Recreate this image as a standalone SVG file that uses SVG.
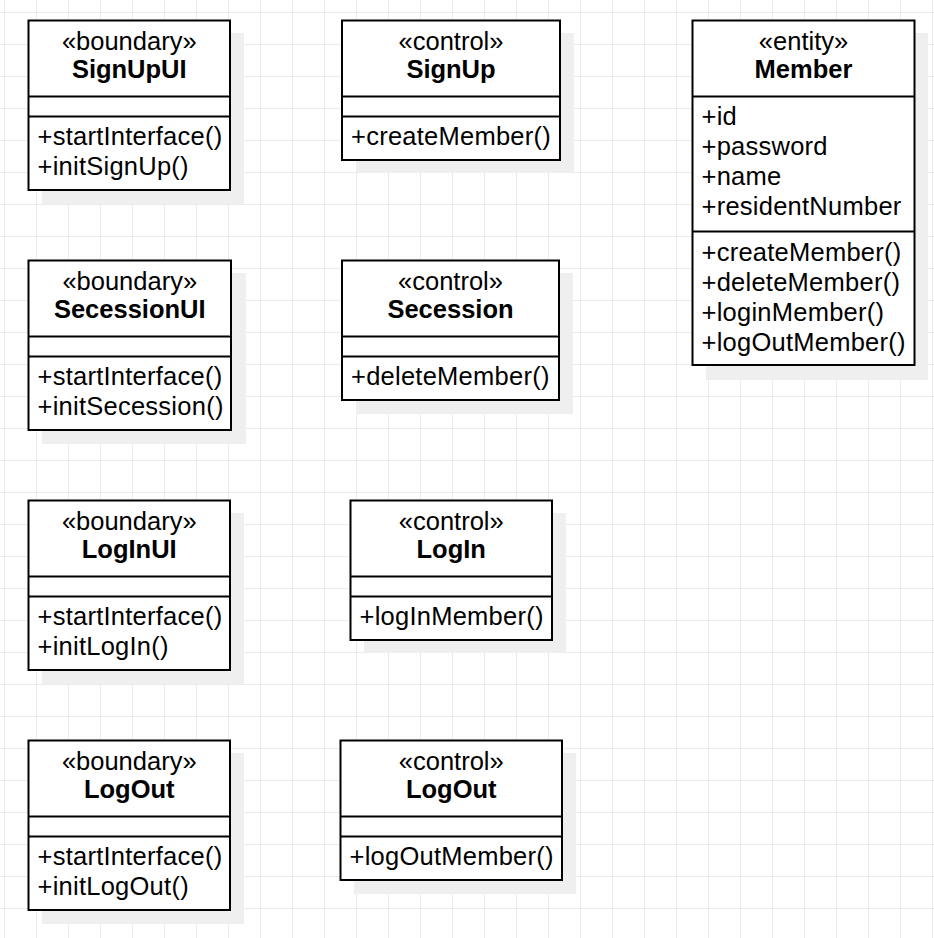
<svg xmlns="http://www.w3.org/2000/svg" width="934" height="938" viewBox="0 0 934 938">
<defs>
<pattern id="grid" x="4" y="12" width="32" height="32" patternUnits="userSpaceOnUse">
<path d="M0.5 0V32M0 0.5H32" fill="none" stroke="#ebebeb" stroke-width="1"/>
</pattern>
<style>
.sh{fill:#efefef}
.box{fill:#fff;stroke:#000;stroke-width:2}
.ln{stroke:#000;stroke-width:2;fill:none}
text{font-family:"Liberation Sans",Arial,Helvetica,sans-serif;font-size:25.5px;fill:#000}
.c{text-anchor:middle}
.b{font-weight:bold}
.m{letter-spacing:0.25px}
</style>
</defs>
<rect width="934" height="938" fill="#fff"/>
<rect width="934" height="938" fill="url(#grid)"/>

<g id="SignUpUI">
<rect class="sh" x="42" y="33" width="202" height="171"/>
<rect class="box" x="28.5" y="20.5" width="201.5" height="169.5"/>
<path class="ln" d="M28.5 96.5H230M28.5 116.5H230"/>
<text class="c" x="129.25" y="50">«boundary»</text>
<text class="c b" x="129.25" y="78">SignUpUI</text>
<text class="m" x="37.5" y="145">+startInterface()</text>
<text class="m" x="37.5" y="175">+initSignUp()</text>
</g>

<g id="SecessionUI">
<rect class="sh" x="42" y="273" width="204" height="171"/>
<rect class="box" x="28.5" y="260.5" width="202.5" height="169.5"/>
<path class="ln" d="M28.5 336.5H231M28.5 356.5H231"/>
<text class="c" x="129.75" y="290">«boundary»</text>
<text class="c b" x="129.75" y="318">SecessionUI</text>
<text class="m" x="37.5" y="385">+startInterface()</text>
<text class="m" x="37.5" y="415">+initSecession()</text>
</g>

<g id="LogInUI">
<rect class="sh" x="42" y="513" width="202" height="171"/>
<rect class="box" x="28.5" y="500.5" width="201.5" height="169.5"/>
<path class="ln" d="M28.5 576.5H230M28.5 596.5H230"/>
<text class="c" x="129.25" y="530">«boundary»</text>
<text class="c b" x="129.25" y="558">LogInUI</text>
<text class="m" x="37.5" y="625">+startInterface()</text>
<text class="m" x="37.5" y="655">+initLogIn()</text>
</g>

<g id="LogOutUI">
<rect class="sh" x="42" y="753" width="202" height="171"/>
<rect class="box" x="28.5" y="740.5" width="201.5" height="169.5"/>
<path class="ln" d="M28.5 816.5H230M28.5 836.5H230"/>
<text class="c" x="129.25" y="770">«boundary»</text>
<text class="c b" x="129.25" y="798">LogOut</text>
<text class="m" x="37.5" y="865">+startInterface()</text>
<text class="m" x="37.5" y="895">+initLogOut()</text>
</g>

<g id="SignUp">
<rect class="sh" x="356" y="33" width="218" height="140"/>
<rect class="box" x="342" y="20.5" width="218" height="139.5"/>
<path class="ln" d="M342 96.5H560M342 116.5H560"/>
<text class="c" x="451" y="50">«control»</text>
<text class="c b" x="451" y="78">SignUp</text>
<text class="m" x="351" y="145">+createMember()</text>
</g>

<g id="Secession">
<rect class="sh" x="356" y="273" width="217" height="141"/>
<rect class="box" x="342" y="260.5" width="217" height="139.5"/>
<path class="ln" d="M342 336.5H559M342 356.5H559"/>
<text class="c" x="450.5" y="290">«control»</text>
<text class="c b" x="450.5" y="318">Secession</text>
<text class="m" x="351" y="385">+deleteMember()</text>
</g>

<g id="LogIn">
<rect class="sh" x="364" y="513" width="202" height="140"/>
<rect class="box" x="350.5" y="500.5" width="201.5" height="139.5"/>
<path class="ln" d="M350.5 576.5H552M350.5 596.5H552"/>
<text class="c" x="451.25" y="530">«control»</text>
<text class="c b" x="451.25" y="558">LogIn</text>
<text class="m" x="359.5" y="625">+logInMember()</text>
</g>

<g id="LogOut">
<rect class="sh" x="354" y="753" width="222" height="141"/>
<rect class="box" x="340.5" y="740.5" width="221.5" height="139.5"/>
<path class="ln" d="M340.5 816.5H562M340.5 836.5H562"/>
<text class="c" x="451.25" y="770">«control»</text>
<text class="c b" x="451.25" y="798">LogOut</text>
<text class="m" x="349.5" y="865">+logOutMember()</text>
</g>

<g id="Member">
<rect class="sh" x="706" y="33" width="222" height="347"/>
<rect class="box" x="692.5" y="20.5" width="222" height="344.5"/>
<path class="ln" d="M692.5 96.5H914.5M692.5 231.5H914.5"/>
<text class="c" x="803.5" y="50">«entity»</text>
<text class="c b" x="803.5" y="78">Member</text>
<text class="m" x="701.5" y="125">+id</text>
<text class="m" x="701.5" y="155">+password</text>
<text class="m" x="701.5" y="185">+name</text>
<text class="m" x="701.5" y="215">+residentNumber</text>
<text class="m" x="701.5" y="261">+createMember()</text>
<text class="m" x="701.5" y="291">+deleteMember()</text>
<text class="m" x="701.5" y="321">+loginMember()</text>
<text class="m" x="701.5" y="351">+logOutMember()</text>
</g>

<g id="connectors"/>
</svg>
